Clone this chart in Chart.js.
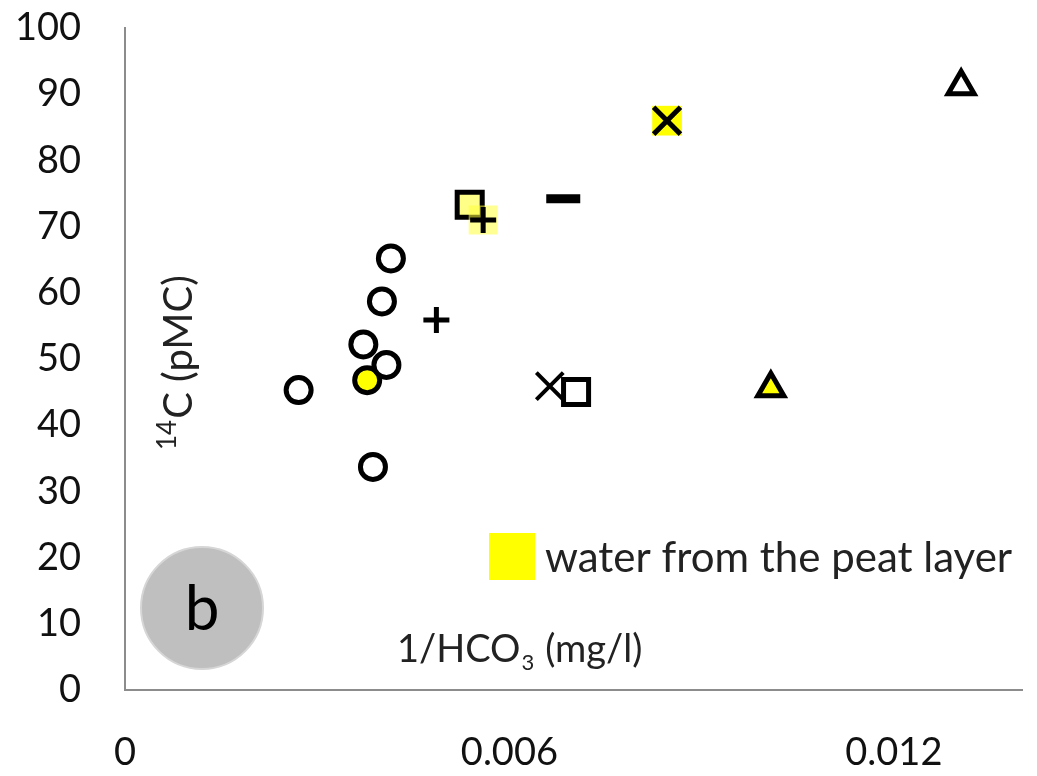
<!DOCTYPE html>
<html>
<head>
<meta charset="utf-8">
<script src="https://cdn.jsdelivr.net/npm/chart.js@4"></script>
<style>
  html, body { margin: 0; padding: 0; background: #fff; }
  #wrap { width: 1037px; height: 776px; position: relative; }
</style>
</head>
<body>
<div id="wrap"><canvas id="chart"></canvas></div>
<script>
// x = 1/HCO3 (mg/l), y = 14C (pMC)
const openCircleX = [0.00271, 0.00415, 0.00401, 0.00372, 0.00408, 0.00387];
const openCircleY = [45.3, 65.2, 58.7, 52.2, 49.1, 33.7];
const peatCircleX = [0.00378];
const peatCircleY = [46.8];

const openPlusX = [0.00486];
const openPlusY = [55.9];
const peatPlusX = [0.00559];
const peatPlusY = [71.0];

const peatSquareX = [0.00538];
const peatSquareY = [73.3];
const openSquareX = [0.00704];
const openSquareY = [45.0];

const dashX = [0.00684];
const dashY = [74.2];

const openCrossX = [0.00663];
const openCrossY = [45.9];
const peatCrossX = [0.00846];
const peatCrossY = [86.0];

const openTriangleX = [0.01305];
const openTriangleY = [91.2];
const peatTriangleX = [0.01008];
const peatTriangleY = [45.6];

const xTicks = [0, 0.006, 0.012];
const yTicks = [0, 10, 20, 30, 40, 50, 60, 70, 80, 90, 100];
const legendLabel = 'water from the peat layer';
const panelLabel = 'b';

const YELLOW = '#ffff00';
const PALE_YELLOW = '#ffff88';
const AXIS_GREY = '#8c8c8c';

function pts(xs, ys) {
    return xs.map((x, i) => ({ x: x, y: ys[i] }));
}

function series(xs, ys, style) {
    return Object.assign({
        data: pts(xs, ys),
        pointBorderColor: '#000',
        pointBackgroundColor: '#fff',
        pointHoverRadius: style.pointRadius,
        showLine: false
    }, style);
}

const datasets = [
    series(openCircleX, openCircleY, { pointStyle: 'circle', pointRadius: 12.5, pointBorderWidth: 5, order: 1 }),
    series(peatCircleX, peatCircleY, { pointStyle: 'circle', pointRadius: 12.5, pointBorderWidth: 5, pointBackgroundColor: YELLOW, order: 2 }),
    series(openPlusX, openPlusY, { pointStyle: 'cross', pointRadius: 13, pointBorderWidth: 5, order: 1 }),
    series(peatPlusX, peatPlusY, { pointStyle: 'cross', pointRadius: 13, pointBorderWidth: 5, order: 1 }),
    // pale highlight square behind the peat plus
    series(peatPlusX, peatPlusY, { pointStyle: 'rect', pointRadius: 20.5, pointBorderWidth: 0, pointBorderColor: 'rgba(0,0,0,0)', pointBackgroundColor: 'rgba(255,255,60,0.55)', order: 3 }),
    series(peatSquareX, peatSquareY, { pointStyle: 'rect', pointRadius: 17.7, pointBorderWidth: 5, pointBackgroundColor: PALE_YELLOW, order: 4 }),
    series(openSquareX, openSquareY, { pointStyle: 'rect', pointRadius: 17.7, pointBorderWidth: 5, order: 1 }),
    series(dashX, dashY, { pointStyle: 'line', pointRadius: 17, pointBorderWidth: 9, order: 1 }),
    series(openCrossX, openCrossY, { pointStyle: 'crossRot', pointRadius: 19, pointBorderWidth: 4, order: 2 }),
    series(peatCrossX, peatCrossY, { pointStyle: 'crossRot', pointRadius: 19, pointBorderWidth: 5, order: 1 }),
    series(peatCrossX, peatCrossY, { pointStyle: 'rect', pointRadius: 21, pointBorderWidth: 0, pointBorderColor: 'rgba(0,0,0,0)', pointBackgroundColor: YELLOW, order: 3 }),
    series(openTriangleX, openTriangleY, { pointStyle: 'triangle', pointRadius: 15, pointBorderWidth: 5, order: 1 }),
    series(peatTriangleX, peatTriangleY, { pointStyle: 'triangle', pointRadius: 15, pointBorderWidth: 5, pointBackgroundColor: YELLOW, order: 1 })
];

const annotations = {
    id: 'annotations',
    beforeDatasetsDraw(chart) {
        const ctx = chart.ctx;
        ctx.save();

        // grey panel badge
        ctx.beginPath();
        ctx.arc(202, 608, 61, 0, Math.PI * 2);
        ctx.fillStyle = '#bfbfbf';
        ctx.fill();
        ctx.lineWidth = 2;
        ctx.strokeStyle = '#d6d6d6';
        ctx.stroke();
        ctx.fillStyle = '#000';
        ctx.font = '62px Lato';
        ctx.textAlign = 'center';
        ctx.textBaseline = 'alphabetic';
        ctx.fillText(panelLabel, 202, 630);

        // legend swatch + text
        ctx.fillStyle = YELLOW;
        ctx.fillRect(489, 533, 46, 47);
        ctx.fillStyle = '#222';
        ctx.textAlign = 'left';
        ctx.font = '42px Lato';
        ctx.fillText(legendLabel, 545, 572);

        // x axis title, inside the plot
        ctx.font = '38px Lato';
        let x = 397;
        ctx.fillText('1/HCO', x, 662);
        x += ctx.measureText('1/HCO').width + 1;
        ctx.font = '22px Lato';
        ctx.fillText('3', x, 670);
        x += ctx.measureText('3').width + 11;
        ctx.font = '38px Lato';
        ctx.fillText('(mg/l)', x, 662);

        // y axis title, rotated
        ctx.translate(192, 450);
        ctx.rotate(-Math.PI / 2);
        ctx.font = '26px Lato';
        ctx.fillText('14', 0, -16);
        const sw = ctx.measureText('14').width;
        ctx.font = '40px Lato';
        ctx.fillText('C (pMC)', sw + 1, 0);

        ctx.restore();
    }
};

new Chart(document.getElementById('chart'), {
    type: 'scatter',
    data: { datasets: datasets },
    options: {
        responsive: true,
        maintainAspectRatio: false,
        animation: false,
        layout: { autoPadding: false, padding: { left: 0, top: 28, right: 15, bottom: 0 } },
        plugins: {
            legend: { display: false },
            tooltip: { enabled: false }
        },
        scales: {
            x: {
                type: 'linear',
                min: 0,
                max: 0.014,
                afterBuildTicks: scale => { scale.ticks = xTicks.map(v => ({ value: v })); },
                afterFit: scale => {
                    scale.height = 86;
                    scale.paddingLeft = 0;
                    scale.paddingRight = 0;
                },
                grid: { display: false, drawTicks: false },
                border: { display: true, color: AXIS_GREY, width: 2 },
                ticks: {
                    color: '#111',
                    font: { family: 'Lato', size: 38 },
                    padding: 40,
                    maxRotation: 0,
                    callback: v => String(v)
                }
            },
            y: {
                type: 'linear',
                min: 0,
                max: 100,
                afterBuildTicks: scale => { scale.ticks = yTicks.map(v => ({ value: v })); },
                afterFit: scale => {
                    scale.width = 125;
                    scale.paddingTop = 0;
                    scale.paddingBottom = 0;
                },
                grid: { display: false, drawTicks: false },
                border: { display: true, color: AXIS_GREY, width: 2 },
                ticks: {
                    color: '#111',
                    font: { family: 'Lato', size: 38 },
                    padding: 44
                }
            }
        }
    },
    plugins: [annotations]
});
</script>
</body>
</html>
